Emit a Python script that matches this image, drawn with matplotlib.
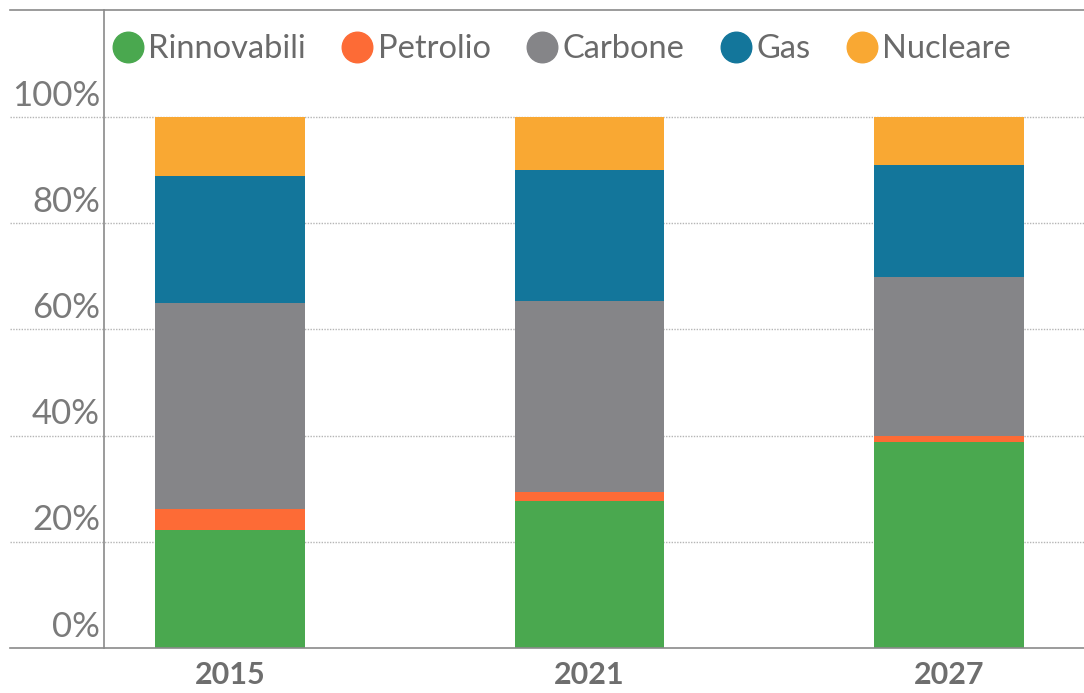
import matplotlib.pyplot as plt
from matplotlib.lines import Line2D
from matplotlib.transforms import blended_transform_factory
import numpy as np

years = ["2015", "2021", "2027"]
fonti = ["Rinnovabili", "Petrolio", "Carbone", "Gas", "Nucleare"]
rinnovabili = [22.2, 27.7, 38.8]
petrolio = [4.0, 1.7, 1.1]
carbone = [38.8, 35.9, 30.0]
gas = [23.9, 24.7, 21.1]
nucleare = [11.1, 10.0, 9.0]
yticks = [0, 20, 40, 60, 80, 100]

colori = ["#4aa84f", "#fd6b36", "#858588", "#13769b", "#f9a833"]
serie = [rinnovabili, petrolio, carbone, gas, nucleare]

plt.rcParams['font.family'] = ['Lato', 'DejaVu Sans']

fig = plt.figure(figsize=(10.84, 6.93), dpi=100)
ax = fig.add_axes([104 / 1084, 1 - 648 / 693, 1 - 104 / 1084, 638 / 693])

x = np.arange(len(years))
base = np.zeros(len(years))
for nome, vals, c in zip(fonti, serie, colori):
    ax.bar(x, vals, width=0.416, bottom=base, color=c, label=nome, zorder=3)
    base += np.array(vals)

ax.set_xlim(-0.35, 2.375)
ax.set_ylim(0, 638 / 5.31)

for s in ["right", "bottom", "top"]:
    ax.spines[s].set_visible(False)
ax.spines["left"].set_color("#8a8a8a")
ax.spines["left"].set_linewidth(1.2)

ax.set_yticks([])
ax.set_xticks(x)
ax.set_xticklabels(years, fontsize=22, fontweight="bold", color="#6e6e6e")
ax.tick_params(axis="x", length=0, pad=9)

# griglia tratteggiata che sporge a sinistra dell'asse
tr = blended_transform_factory(fig.transFigure, ax.transData)
for t in yticks[1:]:
    ax.plot([10 / 1084, 1], [t, t], transform=tr, color="#b5b5b5",
            lw=1, ls=(0, (1, 1)), clip_on=False, zorder=1)
for t in yticks:
    ax.text(100 / 1084, t + 1.0, f"{t}%", transform=tr, ha="right", va="bottom",
            fontsize=25, fontweight="normal", color="#7a7a7a")

# linee orizzontali di base e in alto
fig.add_artist(Line2D([10 / 1084, 1], [1 - 648 / 693] * 2, color="#8a8a8a", lw=1.2))
fig.add_artist(Line2D([10 / 1084, 1], [1 - 10 / 693] * 2, color="#8a8a8a", lw=1.2))

handles = [Line2D([], [], marker="o", ls="", markersize=22, color=c) for c in colori]
fig.legend(handles, fonti, loc="center left", bbox_to_anchor=(96 / 1084, 1 - 49 / 693),
           ncol=5, frameon=False, fontsize=23.5, handlelength=0.95, handletextpad=0.15,
           columnspacing=1.1, borderpad=0, labelcolor="#6a6a6a")

fig.savefig("out.png", dpi=100)
